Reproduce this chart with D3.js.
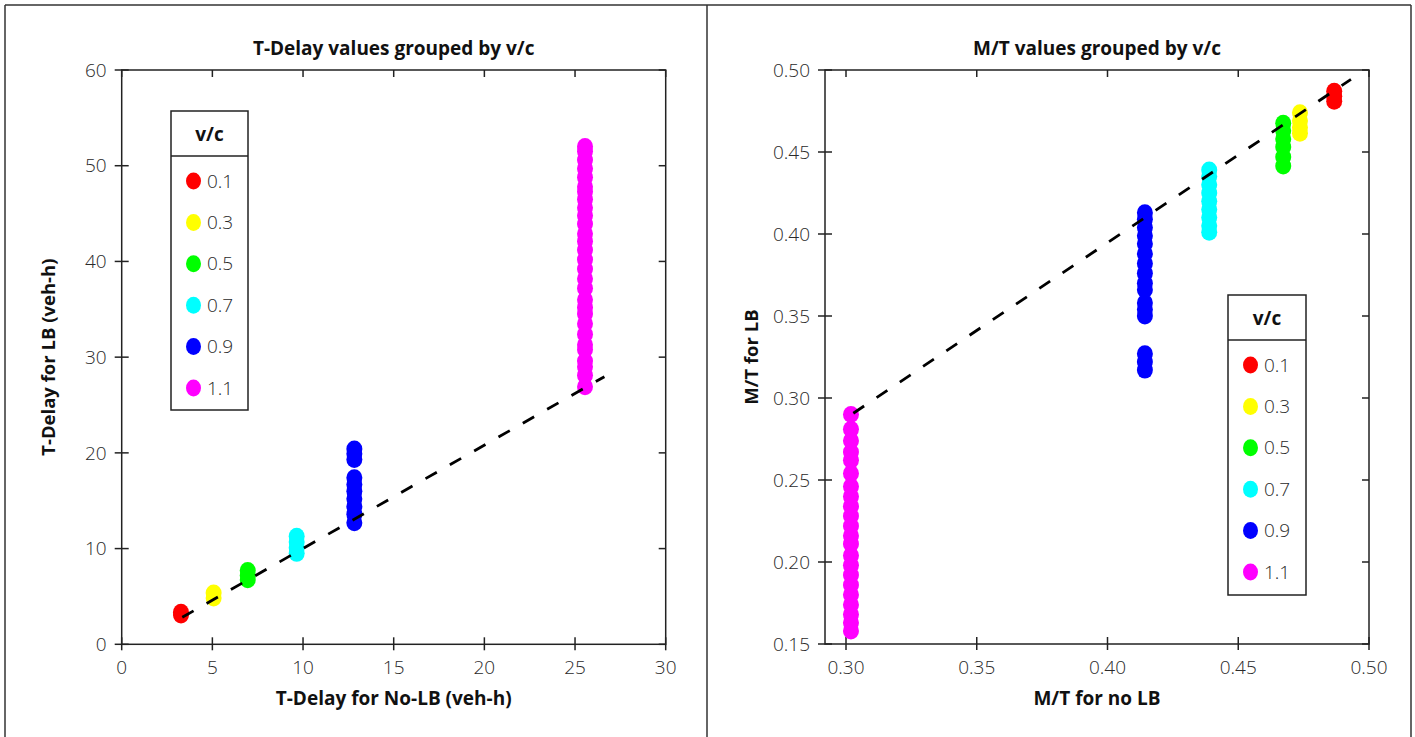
<!DOCTYPE html>
<html><head><meta charset="utf-8">
<script src="https://cdn.jsdelivr.net/npm/d3@7"></script>
<style>
body{margin:0;background:#fff;}
svg{display:block;}
text{font-family:"Open Sans",sans-serif;}
</style></head><body>
<svg id="chart" width="1415" height="737"></svg>
<script>
// ---------- data ----------
const vcCategories = ["0.1", "0.3", "0.5", "0.7", "0.9", "1.1"];
const vcColors = ["#ff0000", "#ffff00", "#00ff00", "#00ffff", "#0000ff", "#ff00ff"];

// Left panel: T-Delay
const tdNoLB = [3.27, 5.07, 6.95, 9.65, 12.83, 25.55];
const tdLB = [
  [3.05, 3.35],
  [4.85, 5.35],
  [6.75, 7.2, 7.7],
  [9.5, 10.1, 10.7, 11.3],
  [12.7, 13.6, 14.4, 15.2, 16.0, 16.7, 17.4, 19.3, 19.9, 20.4],
  [26.9, 28.1, 29.0, 29.6, 30.8, 31.3, 32.4, 33.5, 34.5, 35.2, 36.0, 37.2, 38.2, 39.2, 40.2, 41.2, 42.1, 42.9, 43.9, 44.8, 45.6, 46.5, 47.3, 47.8, 48.8, 49.7, 50.6, 51.5, 52.0]
];
const tdFitX = [3.34, 26.62];
const tdFitY = [2.82, 27.96];
const tdXTicks = [0, 5, 10, 15, 20, 25, 30];
const tdYTicks = [0, 10, 20, 30, 40, 50, 60];

// Right panel: M/T
const mtNoLB = [0.4867, 0.4736, 0.4672, 0.4389, 0.4143, 0.3019];
const mtLB = [
  [0.481, 0.484, 0.487],
  [0.4615, 0.465, 0.469, 0.474],
  [0.4415, 0.447, 0.453, 0.458, 0.463, 0.4675],
  [0.401, 0.405, 0.410, 0.415, 0.420, 0.425, 0.430, 0.435, 0.439],
  [0.317, 0.322, 0.327, 0.350, 0.354, 0.358, 0.366, 0.370, 0.376, 0.382, 0.388, 0.394, 0.399, 0.404, 0.409, 0.413],
  [0.158, 0.163, 0.168, 0.174, 0.180, 0.186, 0.192, 0.198, 0.204, 0.211, 0.216, 0.222, 0.228, 0.234, 0.240, 0.246, 0.254, 0.262, 0.267, 0.274, 0.281, 0.290]
];
const mtFitX = [0.3028, 0.4931];
const mtFitY = [0.2907, 0.4943];
const mtXTicks = [0.30, 0.35, 0.40, 0.45, 0.50];
const mtYTicks = [0.15, 0.20, 0.25, 0.30, 0.35, 0.40, 0.45, 0.50];

// ---------- drawing ----------
const svg = d3.select("#chart");
const INK = "#222";

// panel frame
const frame = svg.append("g").attr("stroke", "#333").attr("stroke-width", 1.5);
frame.append("line").attr("x1", 5).attr("x2", 1411).attr("y1", 5).attr("y2", 5);
[5, 707, 1411].forEach(x => frame.append("line").attr("x1", x).attr("x2", x).attr("y1", 5).attr("y2", 737));

function panel(opts) {
  const {x, y, xTicks, yTicks, fmt, xs, ys, fitX, fitY, title, xLabel, yLabel, yLabelX, legend} = opts;
  const g = svg.append("g");
  const [x0, x1] = x.range();
  const [y0, y1] = y.range(); // y0 bottom, y1 top
  const left = opts.boxLeft;

  g.append("rect").attr("x", left).attr("y", y1).attr("width", x1 - left).attr("height", y0 - y1)
    .attr("fill", "none").attr("stroke", INK).attr("stroke-width", 1.5);

  const tk = g.append("g").attr("stroke", INK).attr("stroke-width", 1.5);
  xTicks.forEach(t => {
    const px = x(t);
    tk.append("line").attr("x1", px).attr("x2", px).attr("y1", y0 - 7).attr("y2", y0 + 6);
    tk.append("line").attr("x1", px).attr("x2", px).attr("y1", y1).attr("y2", y1 + 7);
  });
  yTicks.forEach(t => {
    const py = y(t);
    tk.append("line").attr("x1", left - 7).attr("x2", left + 7).attr("y1", py).attr("y2", py);
    tk.append("line").attr("x1", x1 - 7).attr("x2", x1).attr("y1", py).attr("y2", py);
  });

  const tl = g.append("g").attr("font-size", 19).attr("font-weight", 300).attr("fill", "#2a2a2a");
  xTicks.forEach(t => tl.append("text").attr("x", x(t)).attr("y", y0 + 30).attr("text-anchor", "middle").text(fmt(t)));
  yTicks.forEach(t => tl.append("text").attr("x", left - 15).attr("y", y(t)).attr("dy", "0.35em").attr("text-anchor", "end").text(fmt(t)));

  const pts = g.append("g");
  xs.forEach((xv, i) => {
    ys[i].forEach(yv => {
      pts.append("ellipse").attr("cx", x(xv)).attr("cy", y(yv)).attr("rx", 8).attr("ry", 8.5)
        .attr("fill", vcColors[i]);
    });
  });

  g.append("line").attr("x1", x(fitX[0])).attr("y1", y(fitY[0])).attr("x2", x(fitX[1])).attr("y2", y(fitY[1]))
    .attr("stroke", "#000").attr("stroke-width", 2.8).attr("stroke-dasharray", "13,15");

  const cx = (left + x1) / 2;
  g.append("text").attr("x", cx).attr("y", 55).attr("text-anchor", "middle").attr("font-size", 19).attr("font-weight", 700).attr("fill", "#111").text(title);
  g.append("text").attr("x", cx).attr("y", 705).attr("text-anchor", "middle").attr("font-size", 19).attr("font-weight", 700).attr("fill", "#111").text(xLabel);
  g.append("text").attr("transform", `translate(${yLabelX},${(y0 + y1) / 2})rotate(-90)`).attr("text-anchor", "middle").attr("font-size", 18.5).attr("font-weight", 700).attr("fill", "#111").text(yLabel);

  const lg = g.append("g");
  lg.append("rect").attr("x", legend.x).attr("y", legend.y).attr("width", legend.w).attr("height", legend.h)
    .attr("fill", "#fff").attr("stroke", INK).attr("stroke-width", 1.5);
  lg.append("line").attr("x1", legend.x).attr("x2", legend.x + legend.w).attr("y1", legend.y + 45).attr("y2", legend.y + 45)
    .attr("stroke", INK).attr("stroke-width", 1.5);
  lg.append("text").attr("x", legend.x + legend.w / 2).attr("y", legend.y + 30).attr("text-anchor", "middle")
    .attr("font-size", 19).attr("font-weight", 700).attr("fill", "#111").text("v/c");
  vcCategories.forEach((c, i) => {
    const ry = legend.y + 70 + i * 41.4;
    lg.append("ellipse").attr("cx", legend.x + 22.5).attr("cy", ry).attr("rx", 7.5).attr("ry", 8.5).attr("fill", vcColors[i]);
    lg.append("text").attr("x", legend.x + 36).attr("y", ry).attr("dy", "0.35em").attr("font-size", 19).attr("font-weight", 300).attr("fill", "#2a2a2a").text(c);
  });
}

panel({
  x: d3.scaleLinear().domain([0, 30]).range([121.7, 665.7]),
  y: d3.scaleLinear().domain([0, 60]).range([644.3, 70]),
  boxLeft: 121.7,
  xTicks: tdXTicks, yTicks: tdYTicks, fmt: d3.format("d"),
  xs: tdNoLB, ys: tdLB, fitX: tdFitX, fitY: tdFitY,
  title: "T-Delay values grouped by v/c",
  xLabel: "T-Delay for No-LB (veh-h)",
  yLabel: "T-Delay for LB (veh-h)", yLabelX: 55,
  legend: {x: 171, y: 111, w: 77, h: 299}
});

panel({
  x: d3.scaleLinear().domain([0.30, 0.50]).range([846, 1369]),
  y: d3.scaleLinear().domain([0.15, 0.50]).range([644, 70]),
  boxLeft: 825,
  xTicks: mtXTicks, yTicks: mtYTicks, fmt: d3.format(".2f"),
  xs: mtNoLB, ys: mtLB, fitX: mtFitX, fitY: mtFitY,
  title: "M/T values grouped by v/c",
  xLabel: "M/T for no LB",
  yLabel: "M/T for LB", yLabelX: 758,
  legend: {x: 1228, y: 295, w: 78, h: 300}
});
</script>
</body></html>
